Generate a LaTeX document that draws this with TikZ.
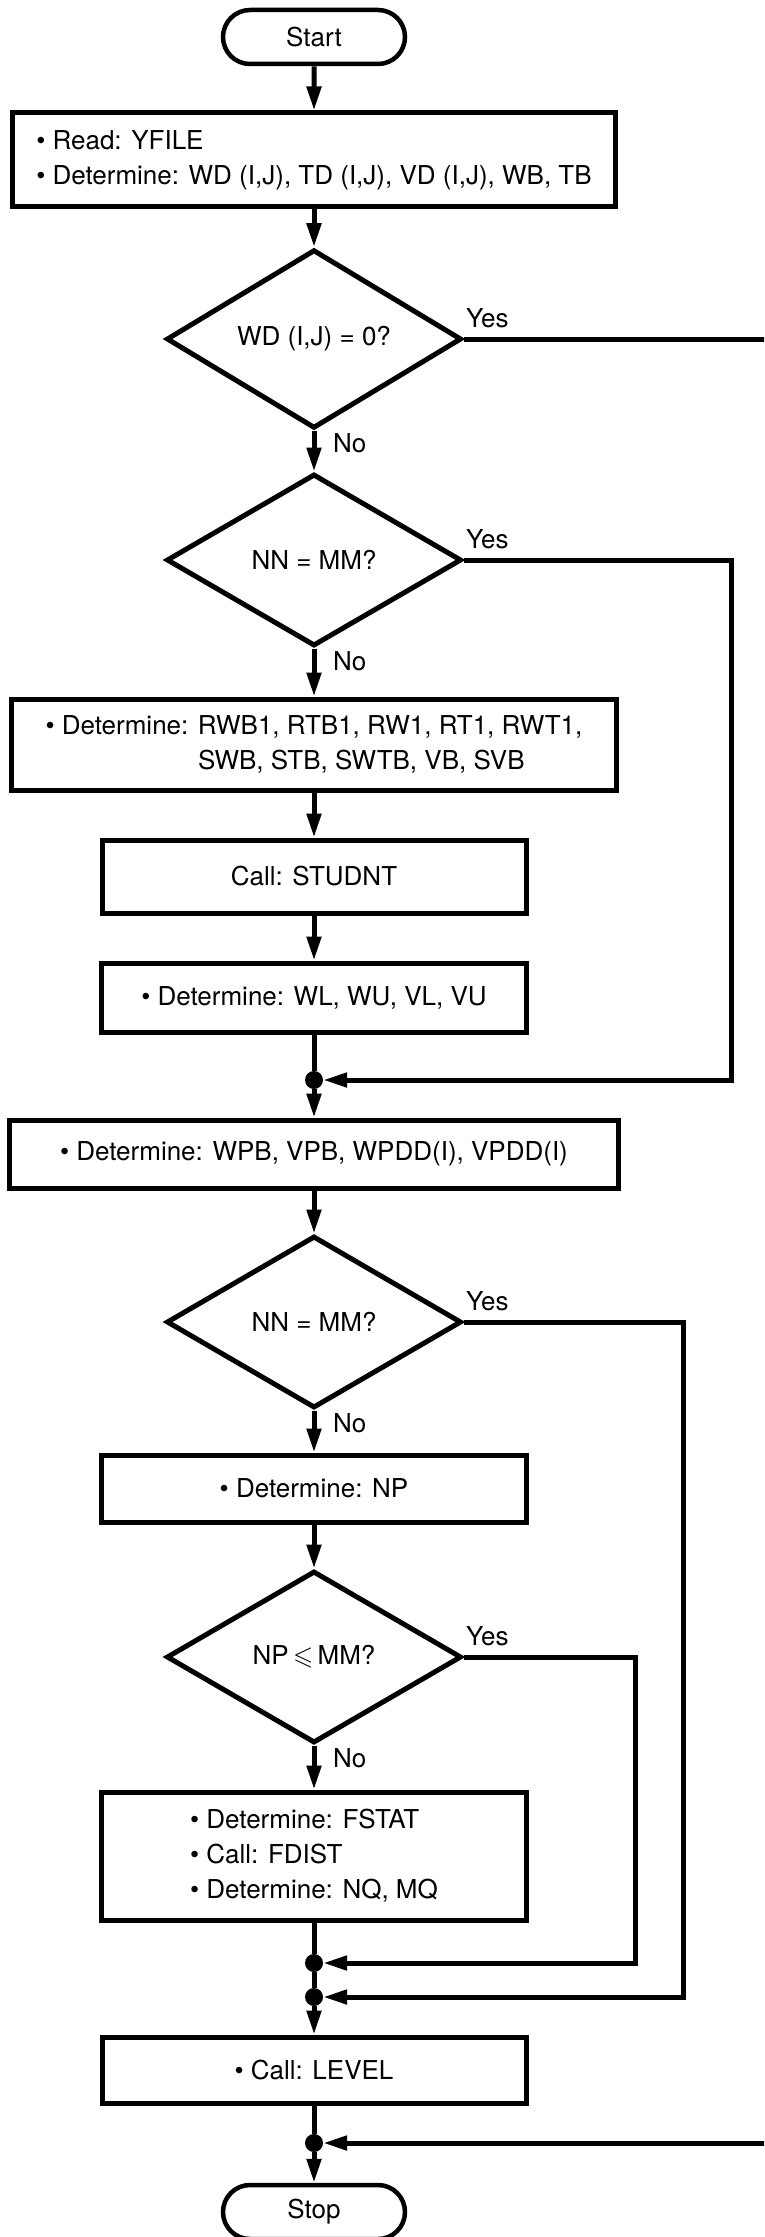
\documentclass[tikz,border=0pt]{standalone}
\usepackage{fontspec}
\setmainfont{TeX Gyre Heros}
\usepackage{amssymb}
\usetikzlibrary{shapes.geometric,shapes.misc,arrows.meta,calc}

\begin{document}
\begin{tikzpicture}[x=1pt,y=-1pt,
  every node/.style={font=\fontsize{26}{35}\selectfont},
  box/.style={draw, line width=5pt, rectangle, inner sep=0pt, align=left},
  terminal/.style={draw, line width=4.5pt, rounded rectangle, minimum width=182pt, minimum height=54pt, inner sep=0pt},
  decision/.style={draw, line width=5pt, diamond, minimum width=295pt, minimum height=172pt, inner sep=0pt},
  junction/.style={circle, fill, minimum size=18pt, inner sep=0pt},
  link/.style={line width=5pt, line join=miter},
  arr/.style={link, -{Triangle[length=24pt,width=14pt]}},
  lbl/.style={inner sep=0pt, anchor=base west}
]
\useasboundingbox (0,0) rectangle (764,2237);
\clip (0,0) rectangle (764,2237);

% main column
\node[terminal] (start) at (314,37) {Start};
\node[box, minimum width=603pt, minimum height=94pt] (b1) at (314,160)
  {• Read: YFILE\\• Determine: WD (I,J), TD (I,J), VD (I,J), WB, TB};
\node[decision] (d1) at (314,339) {WD (I,J) = 0?};
\node[decision] (d2) at (314,560) {NN = MM?};
\node[box, minimum width=605pt, minimum height=91pt] (b2) at (314,744.5)
  {• Determine: RWB1, RTB1, RW1, RT1, RWT1,\\\hphantom{• Determine: }SWB, STB, SWTB, VB, SVB};
\node[box, minimum width=424pt, minimum height=73pt] (b3) at (314,876.5) {Call: STUDNT};
\node[box, minimum width=425pt, minimum height=69pt] (b4) at (314,997.5) {• Determine: WL, WU, VL, VU};
\node[junction] (ja) at (314,1080) {};
\node[box, minimum width=609pt, minimum height=68pt] (b5) at (314,1154) {• Determine: WPB, VPB, WPDD(I), VPDD(I)};
\node[decision] (d3) at (314,1322) {NN = MM?};
\node[box, minimum width=425pt, minimum height=67pt] (b6) at (314,1488.5) {• Determine: NP};
\node[decision] (d4) at (314,1657) {NP\,$\leqslant$\,MM?};
\node[box, minimum width=425pt, minimum height=128pt] (b7) at (314,1856)
  {• Determine: FSTAT\\• Call: FDIST\\• Determine: NQ, MQ};
\node[junction] (jb) at (314,1963) {};
\node[junction] (jc) at (314,1997) {};
\node[box, minimum width=424pt, minimum height=66pt] (b8) at (314,2070) {• Call: LEVEL};
\node[junction] (jd) at (314,2143) {};
\node[terminal] (stop) at (314,2212) {Stop};

% bends of the bypass lines
\coordinate (r1a) at (800,339);
\coordinate (r1b) at (800,2143);
\coordinate (r2) at (731,560);
\coordinate (r3) at (683,1322);
\coordinate (r4) at (635,1657);

% main flow
\draw[arr] (start) -- (b1);
\draw[arr] (b1) -- (d1);
\draw[arr] (d1) -- (d2);
\draw[arr] (d2) -- (b2);
\draw[arr] (b2) -- (b3);
\draw[arr] (b3) -- (b4);
\draw[link] (b4) -- (ja);
\draw[arr] (ja) -- (b5);
\draw[arr] (b5) -- (d3);
\draw[arr] (d3) -- (b6);
\draw[arr] (b6) -- (d4);
\draw[arr] (d4) -- (b7);
\draw[link] (b7) -- (jb);
\draw[link] (jb) -- (jc);
\draw[arr] (jc) -- (b8);
\draw[link] (b8) -- (jd);
\draw[arr] (jd) -- (stop);

% "Yes" bypasses
\draw[arr] (d1.east) -- (r1a) -- (r1b) -- (jd);
\draw[arr] (d2.east) -- (r2) |- (ja);
\draw[arr] (d3.east) -- (r3) |- (jc);
\draw[arr] (d4.east) -- (r4) |- (jb);

% branch labels
\foreach \d/\n in {d1/1,d2/2,d3/3,d4/4} {
  \node[lbl] (yes\n) at ($(\d.east)+(2,-12)$) {Yes};
  \node[lbl] (no\n) at ($(\d.south)+(19,22)$) {No};
}
\end{tikzpicture}
\end{document}
